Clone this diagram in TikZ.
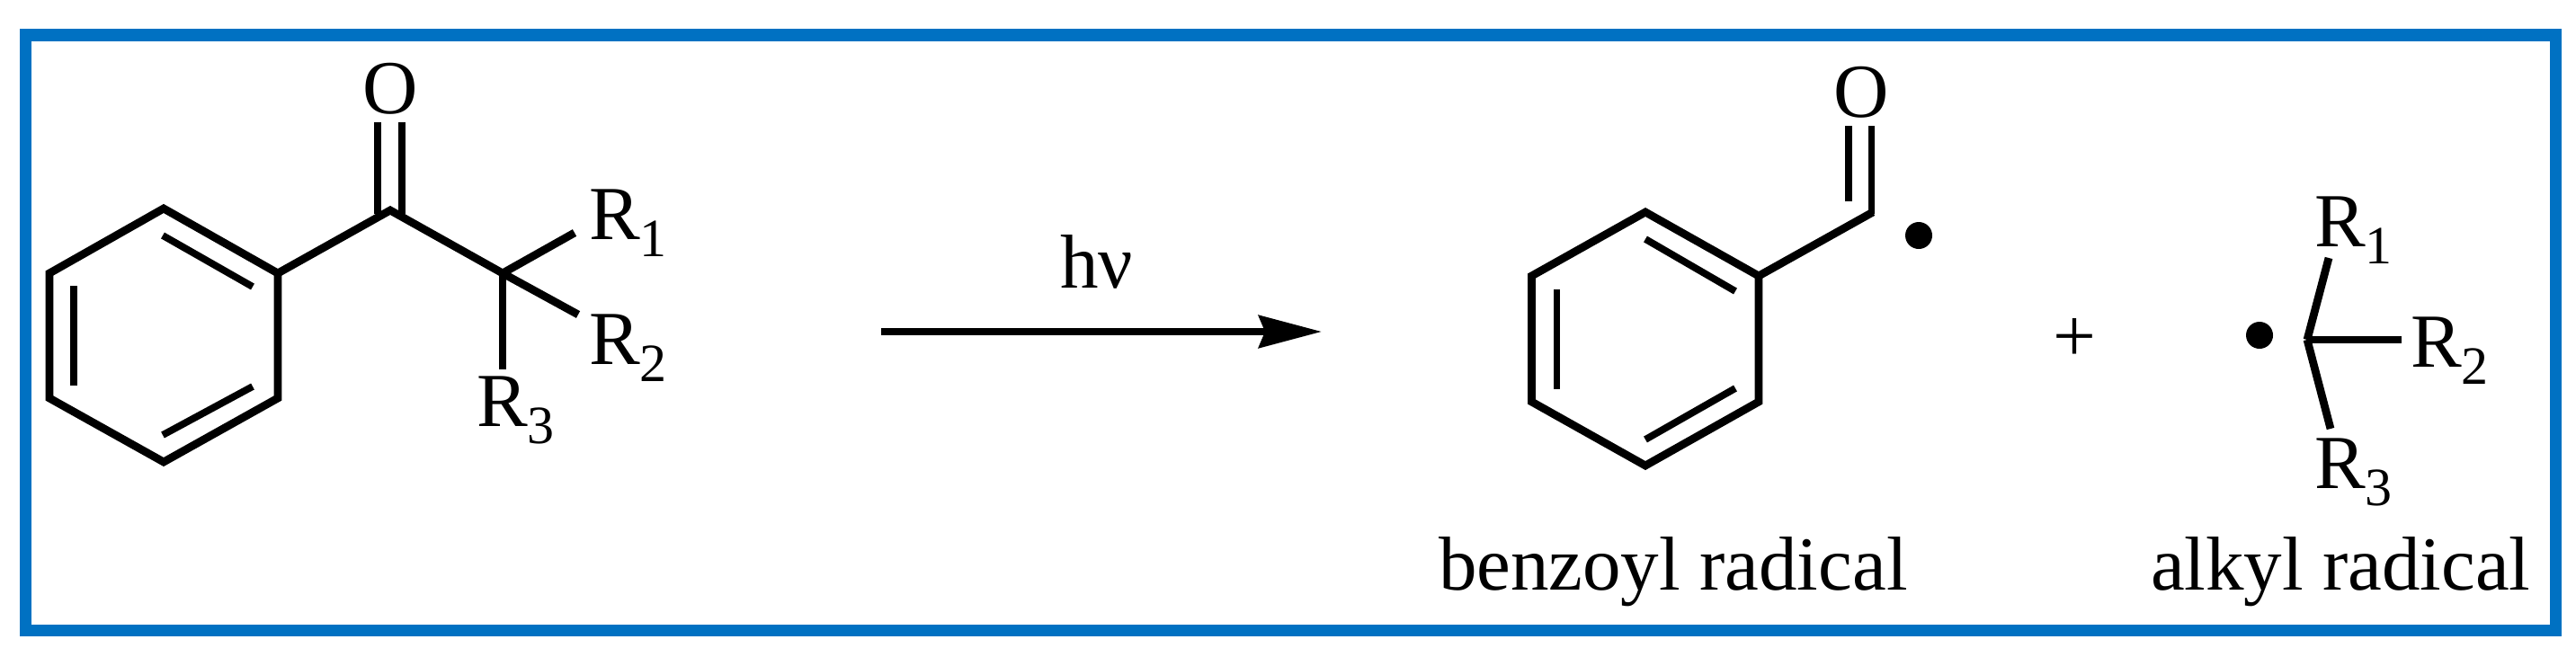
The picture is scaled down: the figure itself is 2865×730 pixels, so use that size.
\documentclass[tikz,border=0pt]{standalone}
\usepackage{fontspec}
\setmainfont{Liberation Serif}
\usetikzlibrary{arrows.meta}
\definecolor{framecol}{RGB}{0,113,194}
\newcommand{\subR}[1]{R\raisebox{-9.5pt}{\fontsize{30}{36}\selectfont #1}}
\tikzset{
  bond/.style={line width=4.4pt,line join=miter,black},
  inner bond/.style={line width=3.9pt,black},
  lbl/.style={anchor=base west,inner sep=0pt,outer sep=0pt,font=\fontsize{42.5}{50}\selectfont,text=black},
  raddot/.style={circle,fill=black,inner sep=0pt,minimum size=15pt},
  frame/.style={draw=framecol,line width=6.6pt,fill=white}
}
\begin{document}
\begin{tikzpicture}[x=0.5pt,y=-0.5pt]
\useasboundingbox (0,0) rectangle (2865,730);
\fill[white] (0,0) rectangle (2865,730);
\draw[frame] (28.5,39) rectangle (2842.5,701.5);

% --- reactant
\coordinate (a1) at (182,232);
\coordinate (a2) at (309,304);
\coordinate (a3) at (309,443);
\coordinate (a4) at (182,514);
\coordinate (a5) at (55,443);
\coordinate (a6) at (55,304);
\coordinate (ac) at (434,234);
\coordinate (aq) at (559,304);
\draw[bond] (a1) -- (a2) -- (a3) -- (a4) -- (a5) -- (a6) -- cycle;
\draw[bond] (a2) -- (ac) -- (aq);
\coordinate (ai1) at (181,262); \coordinate (ai2) at (281,319);
\coordinate (ai3) at (82,318);  \coordinate (ai4) at (82,429);
\coordinate (ai5) at (281,430); \coordinate (ai6) at (181,484);
\draw[inner bond] (ai1) -- (ai2);
\draw[inner bond] (ai3) -- (ai4);
\draw[inner bond] (ai5) -- (ai6);
\coordinate (ao1s) at (420,238); \coordinate (ao1e) at (420,136);
\coordinate (ao2s) at (447,238); \coordinate (ao2e) at (447,136);
\draw[inner bond] (ao1s) -- (ao1e);
\draw[inner bond] (ao2s) -- (ao2e);
\node[lbl,anchor=base] (aO) at (434,126) {O};
\coordinate (ar1) at (639,259);
\coordinate (ar2) at (643,350);
\coordinate (ar3) at (559,411);
\draw[bond] (aq) -- (ar1);
\draw[bond] (aq) -- (ar2);
\draw[bond] (aq) -- (ar3);
\node[lbl] (aR1) at (655,266) {\subR{1}};
\node[lbl] (aR2) at (655,405) {\subR{2}};
\node[lbl] (aR3) at (530,474) {\subR{3}};

% --- arrow
\coordinate (arrS) at (980,369);
\coordinate (arrE) at (1470,369);
\draw[line width=4pt,-{Stealth[length=35pt,width=18pt,inset=3.5pt]}] (arrS) -- (arrE);
\node[lbl] (hv) at (1179,320) {hν};

% --- benzoyl radical
\coordinate (b1) at (1830,236);
\coordinate (b2) at (1956,307);
\coordinate (b3) at (1956,447);
\coordinate (b4) at (1830,518);
\coordinate (b5) at (1703.5,447);
\coordinate (b6) at (1703.5,307);
\coordinate (bc) at (2083,236);
\draw[bond] (b1) -- (b2) -- (b3) -- (b4) -- (b5) -- (b6) -- cycle;
\draw[bond] (b2) -- (bc);
\coordinate (bi1) at (1830,266); \coordinate (bi2) at (1930,324);
\coordinate (bi3) at (1731.5,322); \coordinate (bi4) at (1731.5,433);
\coordinate (bi5) at (1930,432); \coordinate (bi6) at (1830,489);
\draw[inner bond] (bi1) -- (bi2);
\draw[inner bond] (bi3) -- (bi4);
\draw[inner bond] (bi5) -- (bi6);
\coordinate (bo1s) at (2056,224); \coordinate (bo1e) at (2056,140);
\coordinate (bo2s) at (2081.5,238); \coordinate (bo2e) at (2081.5,140);
\draw[inner bond] (bo1s) -- (bo1e);
\draw[inner bond] (bo2s) -- (bo2e);
\node[lbl,anchor=base] (bO) at (2070,130) {O};
\node[raddot] (bdot) at (2134,262) {};
\node[lbl] (blab) at (1600,656) {benzoyl radical};

% --- plus
\node[lbl,anchor=center] (plus) at (2307,378) {+};

% --- alkyl radical
\node[raddot] (cdot) at (2513,373) {};
\coordinate (cc) at (2566,378);
\coordinate (cr1) at (2590,287);
\coordinate (cr2) at (2671,378);
\coordinate (cr3) at (2592,477);
\draw[bond] (cc) -- (cr1);
\draw[bond] (cc) -- (cr2);
\draw[bond] (cc) -- (cr3);
\node[lbl] (cR1) at (2574,274) {\subR{1}};
\node[lbl] (cR2) at (2681,408) {\subR{2}};
\node[lbl] (cR3) at (2574,543) {\subR{3}};
\node[lbl] (clab) at (2392,656) {alkyl radical};
\end{tikzpicture}
\end{document}
